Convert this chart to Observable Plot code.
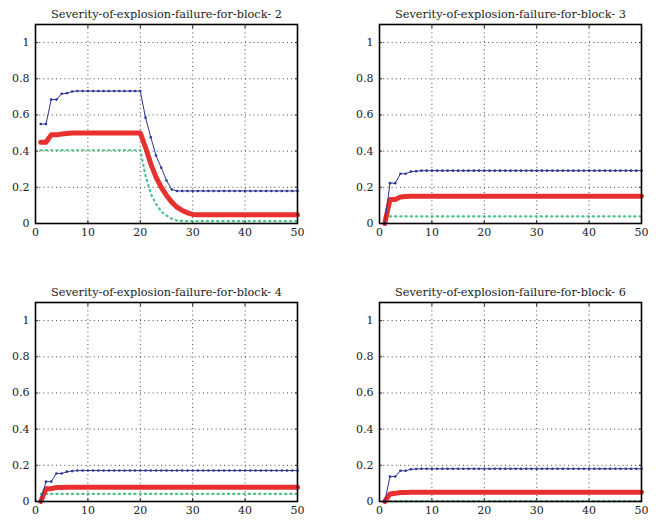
<!DOCTYPE html>
<html><head><meta charset="utf-8">
<script src="https://cdn.jsdelivr.net/npm/d3@7"></script>
<script src="https://cdn.jsdelivr.net/npm/@observablehq/plot@0.6"></script>
<style>
body{margin:0;background:#fff;}
#wrap{position:relative;width:669px;height:524px;overflow:hidden;}
#wrap > svg{position:absolute;}
#wrap svg text{font-family:"DejaVu Serif", serif !important;}
</style></head><body><div id="wrap"></div>
<script>
// iteration index 1..50
const steps = [1,2,3,4,5,6,7,8,9,10,11,12,13,14,15,16,17,18,19,20,21,22,23,24,25,26,27,28,29,30,31,32,33,34,35,36,37,38,39,40,41,42,43,44,45,46,47,48,49,50];
const xTicks = [0,10,20,30,40,50];
const yTicks = [0,0.2,0.4,0.6,0.8,1];
const titles = ["Severity-of-explosion-failure-for-block- 2","Severity-of-explosion-failure-for-block- 3","Severity-of-explosion-failure-for-block- 4","Severity-of-explosion-failure-for-block- 6"];

// block 2
const blue2 = [0.55,0.55,0.685,0.685,0.717,0.72,0.73,0.732,0.732,0.732,0.732,0.732,0.732,0.732,0.732,0.732,0.732,0.732,0.732,0.732,0.585,0.477,0.376,0.308,0.238,0.188,0.18,0.18,0.18,0.18,0.18,0.18,0.18,0.18,0.18,0.18,0.18,0.18,0.18,0.18,0.18,0.18,0.18,0.18,0.18,0.18,0.18,0.18,0.18,0.18];
const red2 = [0.449,0.449,0.49,0.49,0.495,0.498,0.5,0.5,0.5,0.5,0.5,0.5,0.5,0.5,0.5,0.5,0.5,0.5,0.5,0.5,0.42,0.33,0.256,0.2,0.155,0.118,0.09,0.072,0.059,0.05,0.048,0.048,0.048,0.048,0.048,0.048,0.048,0.048,0.048,0.048,0.048,0.048,0.048,0.048,0.048,0.048,0.048,0.048,0.048,0.048];
const green2 = [0.405,0.405,0.405,0.405,0.405,0.405,0.405,0.405,0.405,0.405,0.405,0.405,0.405,0.405,0.405,0.405,0.405,0.405,0.405,0.405,0.265,0.164,0.109,0.066,0.044,0.026,0.016,0.014,0.013,0.013,0.013,0.013,0.013,0.013,0.013,0.013,0.013,0.013,0.013,0.013,0.013,0.013,0.013,0.013,0.013,0.013,0.013,0.013,0.013,0.013];
// block 3
const blue3 = [0,0.223,0.223,0.275,0.275,0.287,0.289,0.292,0.292,0.292,0.292,0.292,0.292,0.292,0.292,0.292,0.292,0.292,0.292,0.292,0.292,0.292,0.292,0.292,0.292,0.292,0.292,0.292,0.292,0.292,0.292,0.292,0.292,0.292,0.292,0.292,0.292,0.292,0.292,0.292,0.292,0.292,0.292,0.292,0.292,0.292,0.292,0.292,0.292,0.292];
const red3 = [0,0.133,0.133,0.146,0.149,0.15,0.15,0.15,0.15,0.15,0.15,0.15,0.15,0.15,0.15,0.15,0.15,0.15,0.15,0.15,0.15,0.15,0.15,0.15,0.15,0.15,0.15,0.15,0.15,0.15,0.15,0.15,0.15,0.15,0.15,0.15,0.15,0.15,0.15,0.15,0.15,0.15,0.15,0.15,0.15,0.15,0.15,0.15,0.15,0.15];
const green3 = [0.039,0.039,0.039,0.039,0.039,0.039,0.039,0.039,0.039,0.039,0.039,0.039,0.039,0.039,0.039,0.039,0.039,0.039,0.039,0.039,0.039,0.039,0.039,0.039,0.039,0.039,0.039,0.039,0.039,0.039,0.039,0.039,0.039,0.039,0.039,0.039,0.039,0.039,0.039,0.039,0.039,0.039,0.039,0.039,0.039,0.039,0.039,0.039,0.039,0.039];
// block 4
const blue4 = [0,0.11,0.11,0.155,0.155,0.165,0.168,0.171,0.171,0.171,0.171,0.171,0.171,0.171,0.171,0.171,0.171,0.171,0.171,0.171,0.171,0.171,0.171,0.171,0.171,0.171,0.171,0.171,0.171,0.171,0.171,0.171,0.171,0.171,0.171,0.171,0.171,0.171,0.171,0.171,0.171,0.171,0.171,0.171,0.171,0.171,0.171,0.171,0.171,0.171];
const red4 = [0,0.07,0.071,0.077,0.078,0.079,0.079,0.079,0.079,0.079,0.079,0.079,0.079,0.079,0.079,0.079,0.079,0.079,0.079,0.079,0.079,0.079,0.079,0.079,0.079,0.079,0.079,0.079,0.079,0.079,0.079,0.079,0.079,0.079,0.079,0.079,0.079,0.079,0.079,0.079,0.079,0.079,0.079,0.079,0.079,0.079,0.079,0.079,0.079,0.079];
const green4 = [0.042,0.042,0.042,0.042,0.042,0.042,0.042,0.042,0.042,0.042,0.042,0.042,0.042,0.042,0.042,0.042,0.042,0.042,0.042,0.042,0.042,0.042,0.042,0.042,0.042,0.042,0.042,0.042,0.042,0.042,0.042,0.042,0.042,0.042,0.042,0.042,0.042,0.042,0.042,0.042,0.042,0.042,0.042,0.042,0.042,0.042,0.042,0.042,0.042,0.042];
// block 6
const blue6 = [0,0.138,0.138,0.17,0.17,0.178,0.18,0.181,0.181,0.181,0.181,0.181,0.181,0.181,0.181,0.181,0.181,0.181,0.181,0.181,0.181,0.181,0.181,0.181,0.181,0.181,0.181,0.181,0.181,0.181,0.181,0.181,0.181,0.181,0.181,0.181,0.181,0.181,0.181,0.181,0.181,0.181,0.181,0.181,0.181,0.181,0.181,0.181,0.181,0.181];
const red6 = [0,0.042,0.045,0.05,0.05,0.051,0.051,0.051,0.051,0.051,0.051,0.051,0.051,0.051,0.051,0.051,0.051,0.051,0.051,0.051,0.051,0.051,0.051,0.051,0.051,0.051,0.051,0.051,0.051,0.051,0.051,0.051,0.051,0.051,0.051,0.051,0.051,0.051,0.051,0.051,0.051,0.051,0.051,0.051,0.051,0.051,0.051,0.051,0.051,0.051];
const green6 = [0.002,0.002,0.002,0.002,0.002,0.002,0.002,0.002,0.002,0.002,0.002,0.002,0.002,0.002,0.002,0.002,0.002,0.002,0.002,0.002,0.002,0.002,0.002,0.002,0.002,0.002,0.002,0.002,0.002,0.002,0.002,0.002,0.002,0.002,0.002,0.002,0.002,0.002,0.002,0.002,0.002,0.002,0.002,0.002,0.002,0.002,0.002,0.002,0.002,0.002];

const panels = [
  {title: titles[0], blue: blue2, red: red2, green: green2, left: 0, top: 0, w: 335, h: 262, ml: 35, mr: 38, mt: 24, mb: 39},
  {title: titles[1], blue: blue3, red: red3, green: green3, left: 335, top: 0, w: 334, h: 262, ml: 44, mr: 28, mt: 24, mb: 39},
  {title: titles[2], blue: blue4, red: red4, green: green4, left: 0, top: 262, w: 335, h: 262, ml: 35, mr: 38, mt: 40, mb: 23},
  {title: titles[3], blue: blue6, red: red6, green: green6, left: 335, top: 262, w: 334, h: 262, ml: 44, mr: 28, mt: 40, mb: 23}
];

const BLUE = "#2b3595", RED = "#e8302f", GREEN = "#4cc184";
const wrap = document.getElementById("wrap");
const blank = () => "";

for (const p of panels) {
  const rows = steps.map((s, i) => ({x: s, b: p.blue[i], r: p.red[i], g: p.green[i]}));
  const svg = Plot.plot({
    width: p.w, height: p.h,
    marginLeft: p.ml, marginRight: p.mr, marginTop: p.mt, marginBottom: p.mb,
    style: "font-family: 'DejaVu Serif', serif; font-size: 11px; color: #222; background: white;",
    x: {domain: [0, 50]},
    y: {domain: [0, 1.1]},
    marks: [
      Plot.gridX([10,20,30,40], {stroke: "#444", strokeOpacity: 1, strokeDasharray: "1,3.2"}),
      Plot.gridY([0.2,0.4,0.6,0.8,1], {stroke: "#444", strokeOpacity: 1, strokeDasharray: "1,3.2"}),
      Plot.axisX(xTicks, {anchor: "bottom", tickSize: -3, tickFormat: blank, label: null, stroke: "#222"}),
      Plot.axisX(xTicks, {anchor: "top", tickSize: -3, tickFormat: blank, label: null, stroke: "#222"}),
      Plot.axisY(yTicks, {anchor: "left", tickSize: -3, tickFormat: blank, label: null, stroke: "#222"}),
      Plot.axisY(yTicks, {anchor: "right", tickSize: -3, tickFormat: blank, label: null, stroke: "#222"}),
      Plot.axisX(xTicks, {anchor: "bottom", tickSize: 0, tickPadding: 5, label: null, fontSize: 11, tickFormat: d => String(d)}),
      Plot.axisY(yTicks, {anchor: "left", tickSize: 0, tickPadding: 6, label: null, fontSize: 11, tickFormat: d => String(d)}),
      Plot.lineY(rows, {x: "x", y: "g", stroke: GREEN, strokeWidth: 2.2, strokeDasharray: "1.2,4"}),
      Plot.lineY(rows, {x: "x", y: "r", stroke: RED, strokeWidth: 5, strokeLinejoin: "round"}),
      Plot.lineY(rows, {x: "x", y: "b", stroke: BLUE, strokeWidth: 1}),
      Plot.dot(rows, {x: "x", y: "b", r: 1.3, fill: BLUE, stroke: "none"}),
      Plot.frame({stroke: "black", strokeWidth: 1.6}),
      Plot.text([p.title], {frameAnchor: "top", dy: -14, text: d => d, fontSize: 11, fill: "#222", className: "ptitle"})
    ]
  });
  svg.style.left = p.left + "px";
  svg.style.top = p.top + "px";
  svg.querySelectorAll(".ptitle text").forEach(t => {
    t.setAttribute("textLength", "231");
    t.setAttribute("lengthAdjust", "spacingAndGlyphs");
  });
  wrap.appendChild(svg);
}
</script></body></html>
